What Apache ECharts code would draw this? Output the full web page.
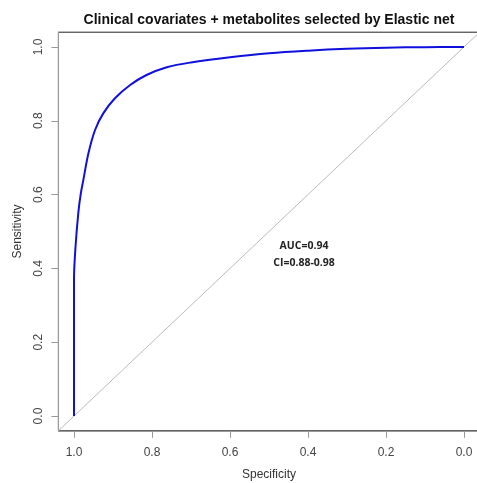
<!DOCTYPE html>
<html>
<head>
<meta charset="utf-8">
<script src="https://cdn.jsdelivr.net/npm/echarts@6/dist/echarts.min.js"></script>
<style>html,body{margin:0;padding:0;background:#fff;}#c{width:477px;height:483px;}</style>
</head>
<body>
<div id="c"></div>
<script>
const specificity = [1.0, 1.0, 0.996, 0.989, 0.983, 0.976, 0.963, 0.946, 0.925, 0.895, 0.856, 0.814, 0.762, 0.700, 0.60, 0.50, 0.40, 0.30, 0.20, 0.10, 0.0];
const sensitivity = [0.0, 0.37, 0.46, 0.55, 0.60, 0.64, 0.712, 0.775, 0.820, 0.861, 0.897, 0.924, 0.945, 0.958, 0.972, 0.983, 0.990, 0.995, 0.998, 0.9995, 1.0];
const tickValues = [0, 0.2, 0.4, 0.6, 0.8, 1.0];
const diagonalSpec = [1.04, -0.04];
const diagonalSens = [-0.04, 1.04];
const titleText = 'Clinical covariates + metabolites selected by Elastic net';
const aucText = 'AUC=0.94';
const ciText = 'CI=0.88-0.98';

const chart = echarts.init(document.getElementById('c'), null, {renderer: 'canvas'});
const fmt = v => v.toFixed(1);
chart.setOption({
  animation: false,
  backgroundColor: '#fff',
  title: {
    text: titleText, left: 264, top: 8, textAlign: 'center',
    textStyle: {fontFamily: 'Liberation Sans', fontWeight: 'bold', fontSize: 14, color: '#111'}
  },
  grid: {left: 58.4, top: 32.2, width: 421.2, height: 398.6, show: true, borderColor: '#222', borderWidth: 1, containLabel: false, outerBoundsMode: 'none'},
  xAxis: {
    type: 'value', min: -0.04, max: 1.04, inverse: true,
    name: 'Specificity', nameLocation: 'middle', nameGap: 38,
    nameTextStyle: {fontFamily: 'Liberation Sans', fontSize: 12, color: '#333'},
    axisLine: {show: true, onZero: false, lineStyle: {color: '#999', width: 1}},
    axisTick: {show: true, length: 7, customValues: tickValues, lineStyle: {color: '#999'}},
    axisLabel: {customValues: tickValues, formatter: fmt, margin: 16, fontFamily: 'Liberation Sans', fontSize: 12, color: '#444'},
    splitLine: {show: false}
  },
  yAxis: {
    type: 'value', min: -0.04, max: 1.04,
    name: 'Sensitivity', nameLocation: 'middle', nameGap: 35,
    nameTextStyle: {fontFamily: 'Liberation Sans', fontSize: 12, color: '#333'},
    axisLine: {show: true, onZero: false, lineStyle: {color: '#999', width: 1}},
    axisTick: {show: true, length: 7, customValues: tickValues, lineStyle: {color: '#999'}},
    axisLabel: {customValues: tickValues, formatter: fmt, rotate: 90, margin: 14, fontFamily: 'Liberation Sans', fontSize: 12, color: '#444'},
    splitLine: {show: false}
  },
  series: [
    {
      type: 'line', data: diagonalSpec.map((s, i) => [s, diagonalSens[i]]),
      symbol: 'none', lineStyle: {color: '#bbb', width: 1}, z: 1, silent: true
    },
    {
      type: 'line', data: specificity.map((s, i) => [s, sensitivity[i]]),
      symbol: 'none', smooth: 0.35, lineStyle: {color: '#1010dd', width: 2}, z: 2, silent: true
    }
  ],
  graphic: [
    {type: 'text', x: 304, y: 246, style: {text: aucText, fontFamily: 'Open Sans', fontWeight: 'bold', fontSize: 10.5, fill: '#222', align: 'center', verticalAlign: 'middle'}},
    {type: 'text', x: 304, y: 263, style: {text: ciText, fontFamily: 'Open Sans', fontWeight: 'bold', fontSize: 10.5, fill: '#222', align: 'center', verticalAlign: 'middle'}}
  ]
});
</script>
</body>
</html>
